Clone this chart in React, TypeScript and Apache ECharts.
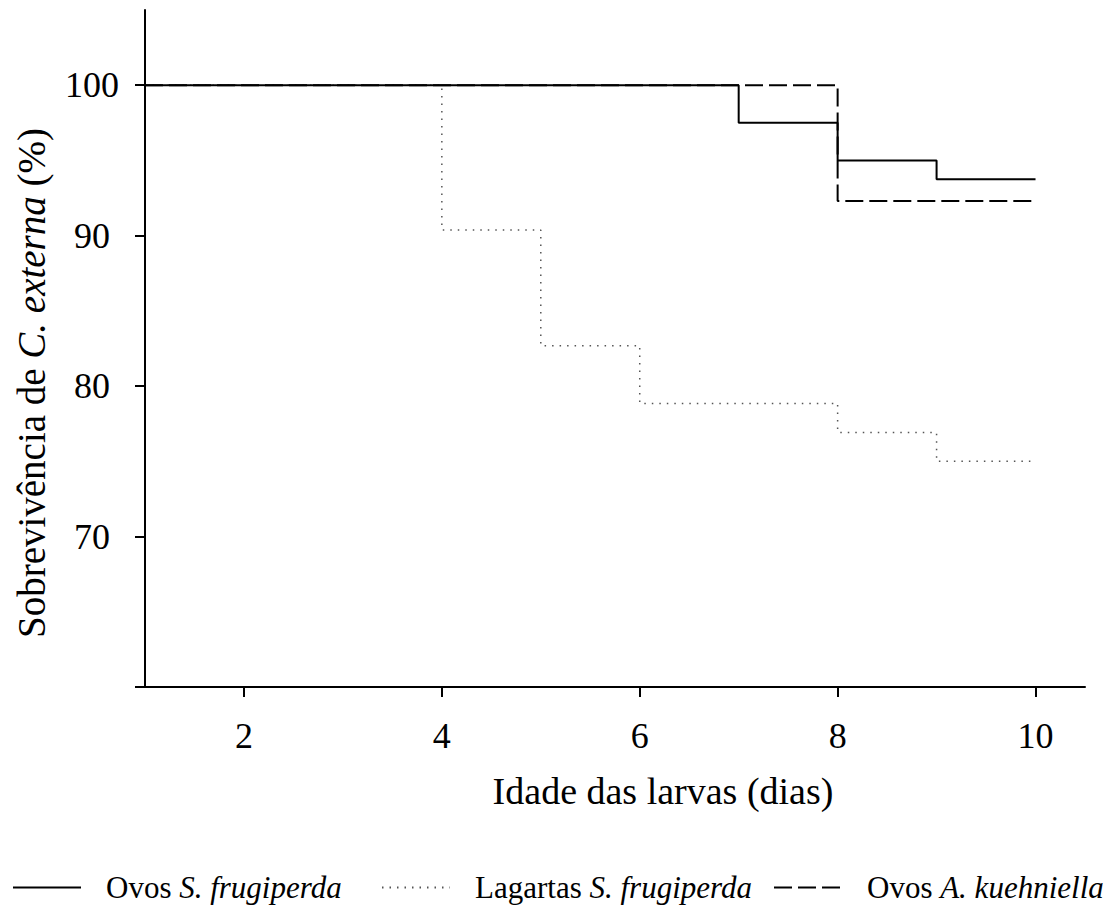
import React, { useEffect, useRef } from "react";
import * as echarts from "echarts";

const days = [1, 2, 3, 4, 5, 6, 7, 8, 9, 10];
const ovosSf = [100, 100, 100, 100, 100, 100, 97.5, 95, 93.75, 93.75];
const lagartasSf = [100, 100, 100, 90.38, 82.69, 78.85, 78.85, 76.92, 75, 75];
const ovosAk = [100, 100, 100, 100, 100, 100, 100, 92.31, 92.31, 92.31];

const xTicks = [2, 4, 6, 8, 10];
const yTicks = [60, 70, 80, 90, 100];
const yLabels = [70, 80, 90, 100];

const names = ["Ovos S. frugiperda", "Lagartas S. frugiperda", "Ovos A. kuehniella"];
const legendRich: Record<string, string> = {
  "Ovos S. frugiperda": "{n|Ovos }{i|S. frugiperda}",
  "Lagartas S. frugiperda": "{n|Lagartas }{i|S. frugiperda}",
  "Ovos A. kuehniella": "{n|Ovos }{i|A. kuehniella}",
};

const FONT = "'Liberation Serif', 'Times New Roman', serif";

export default function App() {
  const ref = useRef<HTMLDivElement>(null);
  useEffect(() => {
    if (!ref.current) return;
    const chart = echarts.init(ref.current, undefined, { renderer: "svg" });
    const pair = (ys: number[]) => days.map((d, i) => [d, ys[i]]);
    const legendBase = (name: string, left: number) => ({
      data: [name],
      left,
      top: 872,
      padding: 0,
      orient: "horizontal",
      itemWidth: 68,
      itemHeight: 14,
      selectedMode: false,
      itemStyle: { color: "rgba(0,0,0,0)", borderColor: "rgba(0,0,0,0)", borderWidth: 0, opacity: 0 },
      formatter: (n: string) => legendRich[n],
      textStyle: {
        fontFamily: FONT,
        fontSize: 31,
        lineHeight: 31,
        color: "#000",
        rich: {
          n: { fontFamily: FONT, fontSize: 31, lineHeight: 31, color: "#000", padding: [0, 0, 0, 20] },
          i: { fontFamily: FONT, fontSize: 31, lineHeight: 31, color: "#000", fontStyle: "italic" },
        },
      },
    });
    chart.setOption({
      animation: false,
      backgroundColor: "#fff",
      grid: { left: 145, right: 27, top: 10, bottom: 218, containLabel: false },
      legend: [legendBase(names[0], 12), legendBase(names[1], 381), legendBase(names[2], 773)],
      xAxis: {
        type: "value",
        min: 1,
        max: 10.5,
        splitLine: { show: false },
        axisLine: { show: true, lineStyle: { color: "#000", width: 2 } },
        axisTick: { show: true, customValues: xTicks, length: 10, lineStyle: { color: "#000", width: 2 } },
        axisLabel: {
          customValues: xTicks,
          fontFamily: FONT,
          fontSize: 36,
          color: "#000",
          margin: 49,
          verticalAlign: "middle",
        },
      },
      yAxis: {
        type: "value",
        min: 60,
        max: 105,
        interval: 10,
        splitLine: { show: false },
        axisLine: { show: true, lineStyle: { color: "#000", width: 2 } },
        axisTick: { show: true, customValues: yTicks, length: 10, lineStyle: { color: "#000", width: 2 } },
        axisLabel: {
          customValues: yLabels,
          fontFamily: FONT,
          fontSize: 36,
          color: "#000",
          margin: 53,
          align: "center",
        },
      },
      graphic: [
        {
          type: "text",
          x: 663,
          y: 791,
          style: {
            text: "Idade das larvas (dias)",
            fontFamily: FONT,
            fontSize: 38,
            fill: "#000",
            align: "center",
            verticalAlign: "middle",
          },
        },
        {
          type: "text",
          x: 31,
          y: 383,
          rotation: Math.PI / 2,
          style: {
            text: "{n|Sobrevivência de }{i|C. externa}{n| (%)}",
            fontFamily: FONT,
            fontSize: 39,
            fill: "#000",
            align: "center",
            verticalAlign: "middle",
            rich: {
              n: { fontFamily: FONT, fontSize: 39, fill: "#000" },
              i: { fontFamily: FONT, fontSize: 39, fill: "#000", fontStyle: "italic" },
            },
          },
        },
      ],
      series: [
        {
          name: names[1],
          type: "line",
          step: "end",
          data: pair(lagartasSf),
          symbol: "none",
          lineStyle: { color: "#555", width: 1.5, type: [1.5, 6] },
          itemStyle: { color: "#555" },
          z: 2,
        },
        {
          name: names[2],
          type: "line",
          step: "end",
          data: pair(ovosAk),
          symbol: "none",
          lineStyle: { color: "#000", width: 2, type: [18, 6] },
          itemStyle: { color: "#000" },
          z: 3,
        },
        {
          name: names[0],
          type: "line",
          step: "end",
          data: pair(ovosSf),
          symbol: "none",
          lineStyle: { color: "#000", width: 2, type: "solid" },
          itemStyle: { color: "#000" },
          z: 4,
        },
      ],
    });
    return () => chart.dispose();
  }, []);
  return (
    <div
      ref={ref}
      style={{ position: "fixed", left: 0, top: 0, width: 1112, height: 905, background: "#fff" }}
    />
  );
}
